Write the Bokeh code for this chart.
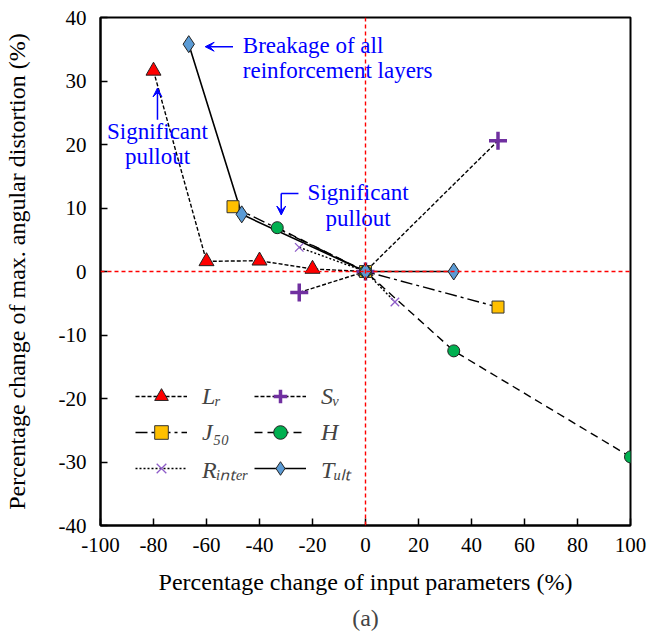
from bokeh.plotting import figure
from bokeh.models import (Label, Arrow, VeeHead, Span, Legend, LegendItem,
                          Title, FixedTicker, Range1d)
from bokeh.embed import file_html
from bokeh.resources import INLINE

# ---- data ----
lr_x = [-80, -60, -40, -20, 0]
lr_y = [31.6, 1.6, 1.7, 0.4, 0]
j50_x = [-50, 0, 50]
j50_y = [10.2, 0, -5.6]
rint_x = [-25, 0, 11.1]
rint_y = [3.8, 0, -4.8]
sv_x = [-25, 0, 50]
sv_y = [-3.3, 0, 20.6]
h_x = [-33.3, 0, 33.3, 100]
h_y = [6.9, 0, -12.5, -29.2]
tult_x = [-66.7, -46.7, 0, 33.3]
tult_y = [35.8, 9.0, 0, 0]

x_ticks = [-100, -80, -60, -40, -20, 0, 20, 40, 60, 80, 100]
x_tick_labels = ["-100", "-80", "-60", "-40", "-20", "0", "20", "40", "60", "80", "100"]
y_ticks = [-40, -30, -20, -10, 0, 10, 20, 30, 40]
y_tick_labels = ["-40", "-30", "-20", "-10", "0", "10", "20", "30", "40"]

FONT = "Liberation Serif"
BLUE = "#0000FF"

p = figure(width=648, height=637, output_backend="svg", toolbar_location=None,
           x_range=Range1d(-100, 100), y_range=Range1d(-40, 40),
           min_border_left=100, min_border_right=18, min_border_top=17,
           min_border_bottom=112)
p.xgrid.visible = False
p.ygrid.visible = False
p.outline_line_color = "black"
p.outline_line_width = 2
p.background_fill_color = "white"
p.border_fill_color = "white"

for ax in (p.xaxis[0], p.yaxis[0]):
    ax.axis_line_width = 2
    ax.axis_line_color = "black"
    ax.major_tick_in = 7
    ax.major_tick_out = 0
    ax.major_tick_line_width = 1.5
    ax.minor_tick_line_color = None
    ax.major_label_text_font = FONT
    ax.major_label_text_font_size = "21px"
    ax.major_label_text_color = "black"
    ax.axis_label_text_font = FONT
    ax.axis_label_text_font_size = "24px"
    ax.axis_label_text_font_style = "normal"
    ax.axis_label_text_color = "black"

p.xaxis.ticker = FixedTicker(ticks=x_ticks)
p.yaxis.ticker = FixedTicker(ticks=y_ticks)
p.xaxis.major_label_overrides = dict(zip(x_ticks, x_tick_labels))
p.yaxis.major_label_overrides = dict(zip(y_ticks, y_tick_labels))
p.xaxis.axis_label = "Percentage change of input parameters (%)"
p.yaxis.axis_label = "Percentage change of max. angular distortion (%)"
p.xaxis.major_label_standoff = 12
p.yaxis.major_label_standoff = 14
p.xaxis.axis_label_standoff = 14
p.yaxis.axis_label_standoff = 26

# reference lines
p.add_layout(Span(location=0, dimension="width", line_color="#FF0000",
                  line_dash="4 3", line_width=1.4))
p.add_layout(Span(location=0, dimension="height", line_color="#FF0000",
                  line_dash="4 3", line_width=1.4))

l_lr = p.line(lr_x, lr_y, line_color="black", line_width=1.4, line_dash="4 2")
l_j50 = p.line(j50_x, j50_y, line_color="black", line_width=1.4, line_dash="12 4 3 4")
l_rint = p.line(rint_x, rint_y, line_color="black", line_width=1.4, line_dash="2 2")
l_sv = p.line(sv_x, sv_y, line_color="black", line_width=1.4, line_dash="4 2")
l_h = p.line(h_x, h_y, line_color="black", line_width=1.4, line_dash="8 5")
l_t = p.line(tult_x, tult_y, line_color="black", line_width=1.6)

m_lr = p.scatter(lr_x, lr_y, marker="triangle", size=15, fill_color="#FF0000",
                 line_color="#222222", line_width=1)
m_j50 = p.scatter(j50_x, j50_y, marker="square", size=12, fill_color="#FFC000",
                  line_color="#333333", line_width=1)
m_rint = p.scatter(rint_x, rint_y, marker="x", size=12, line_color="#8E5CC8",
                   line_width=1.3)
m_sv = p.scatter(sv_x, sv_y, marker="cross", size=18, line_color="#7030A0",
                 line_width=3.5)
m_h = p.scatter(h_x, h_y, marker="circle", size=12, fill_color="#00B050",
                line_color="#222222", line_width=1)
m_t = p.scatter(tult_x, tult_y, marker="diamond", size=17, fill_color="#5B9BD5",
                line_color="#222222", line_width=1)

legend = Legend(items=[
    LegendItem(label="Lᵣ", renderers=[l_lr, m_lr]),
    LegendItem(label="J₅₀", renderers=[l_j50, m_j50]),
    LegendItem(label="Rᵢₙₜₑᵣ", renderers=[l_rint, m_rint]),
    LegendItem(label="Sᵥ", renderers=[l_sv, m_sv]),
    LegendItem(label="H", renderers=[l_h, m_h]),
    LegendItem(label="Tᵤₗₜ", renderers=[l_t, m_t]),
], location=(25, 30), ncols=2)
legend.orientation = "vertical"
legend.background_fill_alpha = 0
legend.border_line_alpha = 0
legend.label_text_font = FONT
legend.label_text_font_style = "italic"
legend.label_text_font_size = "24px"
legend.glyph_width = 52
legend.glyph_height = 34
legend.spacing = 2
legend.label_standoff = 15
legend.label_width = 50
legend.label_height = 34
p.add_layout(legend)

def txt(x, y, s, align):
    p.add_layout(Label(x=x, y=y, text=s, text_font=FONT, text_font_size="23px",
                       text_color=BLUE, text_align=align, text_baseline="middle"))

txt(-46.3, 35.6, "Breakage of all", "left")
txt(-46.3, 31.7, "reinforcement layers", "left")
txt(-78.5, 22.1, "Significant", "center")
txt(-78.5, 18.1, "pullout", "center")
txt(-2.8, 12.5, "Significant", "center")
txt(-2.8, 8.4, "pullout", "center")

def arrow(x0, y0, x1, y1, head=True):
    p.add_layout(Arrow(end=VeeHead(size=9, fill_color=BLUE, line_color=BLUE) if head else None,
                       x_start=x0, y_start=y0, x_end=x1, y_end=y1,
                       line_color=BLUE, line_width=1.5))

arrow(-50, 35.4, -60.5, 35.4)
arrow(-78.5, 23.9, -78.5, 28.9)
arrow(-25.3, 12.3, -31.8, 12.3, head=False)
arrow(-31.8, 12.3, -31.8, 8.9)

p.add_layout(Title(text="(a)", align="center", text_font=FONT,
                   text_font_size="24px", text_font_style="normal"), "below")

open("out.html", "w").write(file_html(p, INLINE))
